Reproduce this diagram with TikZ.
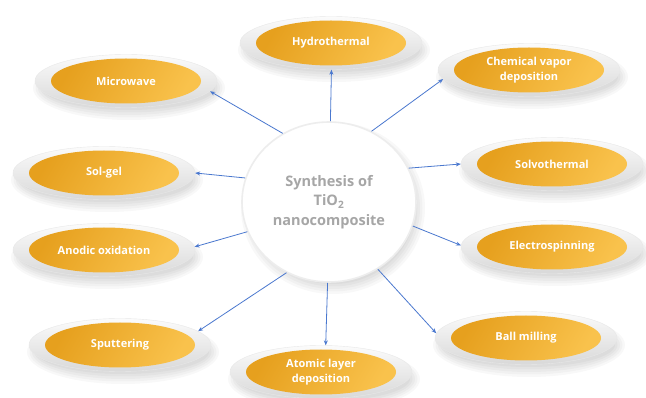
\documentclass[tikz,border=0pt]{standalone}
\usepackage{fontspec}
\setmainfont{Open Sans}
\usetikzlibrary{shapes.geometric,arrows.meta}
\definecolor{orD}{HTML}{E6A01E}
\definecolor{orL}{HTML}{F9C24C}
\definecolor{arr}{HTML}{4A78CF}
\definecolor{ctext}{HTML}{A6A6A6}
\tikzset{
  outerell/.style={ellipse, minimum width=182pt, minimum height=53pt, inner sep=0pt,
    top color=gray!3, bottom color=gray!30, draw=gray!18, line width=0.4pt},
  innerell/.style={ellipse, minimum width=150pt, minimum height=45pt, inner sep=0pt,
    left color=orD, right color=orL, shading angle=60, text=white,
    font=\bfseries\fontsize{11}{15}\selectfont, align=center},
  centerell/.style={ellipse, minimum width=174pt, minimum height=160pt, inner sep=0pt,
    fill=white, draw=gray!14, line width=1.6pt, text=ctext,
    font=\bfseries\fontsize{14.5}{19.5}\selectfont, align=center},
  conn/.style={draw=arr, line width=0.8pt, -{Stealth[length=5pt,width=4pt]}},
  softshadow/.style={fill=black, opacity=0.028},
}
\newcommand\methodnode[4]{%
  \foreach \k in {0,1,2,3,4}{%
    \fill[softshadow] (#2+3,#3+7) ellipse ({86+2.5*\k} and {22+2.5*\k});
  }
  \node[outerell] (#1) at (#2,#3) {};
  \node[innerell] (#1i) at (#2,#3) {#4};
}
\begin{document}
\begin{tikzpicture}[x=1pt,y=-1pt]
\useasboundingbox (0,0) rectangle (646,398);
\fill[white] (0,0) rectangle (646,398);

% center
\foreach \k in {0,1,2,3,4}{%
  \fill[softshadow] (333,208) ellipse ({82+2.5*\k} and {76+2.5*\k});
}
\node[centerell] (c) at (329,202) {Synthesis of\\TiO\textsubscript{2}\\nanocomposite};

\methodnode{ht}{331}{43}{Hydrothermal}
\methodnode{mw}{126}{81}{Microwave}
\methodnode{cvd}{529}{70}{Chemical vapor\\deposition}
\methodnode{sg}{104}{173}{Sol-gel}
\methodnode{sv}{552}{164}{Solvothermal}
\methodnode{ao}{104}{250}{Anodic oxidation}
\methodnode{es}{552}{247}{Electrospinning}
\methodnode{sp}{120}{345}{Sputtering}
\methodnode{bm}{526}{338}{Ball milling}
\methodnode{ald}{321}{372}{Atomic layer\\deposition}

% connectors
\draw[conn] (c.89) -- (ht.-89);
\draw[conn] (c.124) -- (mw.-7);
\draw[conn] (c.59) -- (cvd.186);
\draw[conn] (c.164) -- (sg.0);
\draw[conn] (c.23) -- (sv.180);
\draw[conn] (c.200) -- (ao.2);
\draw[conn] (c.-16) -- (es.179);
\draw[conn] (c.239) -- (sp.10);
\draw[conn] (c.269) -- (ald.80);
\draw[conn] (c.-54) -- (bm.177);
\end{tikzpicture}
\end{document}
